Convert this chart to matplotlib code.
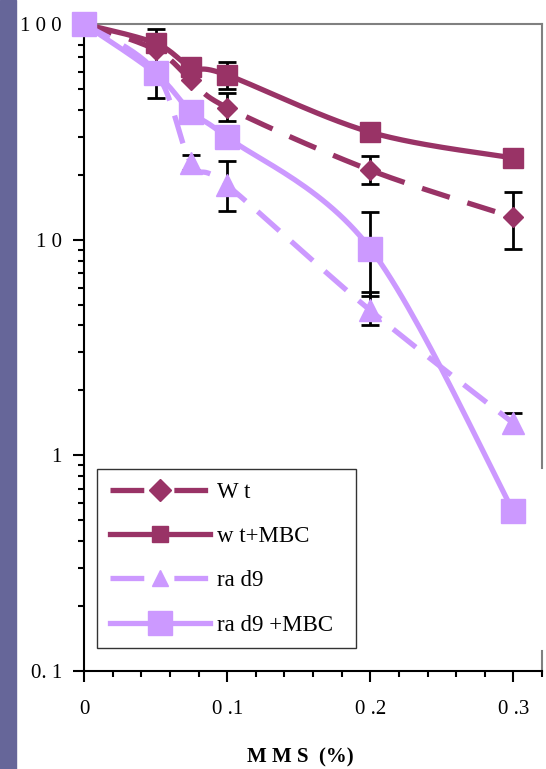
import numpy as np
import matplotlib
matplotlib.use('Agg')
import matplotlib.pyplot as plt
from matplotlib.ticker import LogLocator, NullFormatter, MultipleLocator
from matplotlib.patches import Rectangle

# MMS dose (%) and survival (%)
mms = [0, 0.05, 0.075, 0.1, 0.2, 0.3]
wt = [100, 76, 55, 41, 21, 12.7]
wt_mbc = [100, 81.5, 63, 58, 31.5, 23.9]
rad9 = [100, 60, 22.6, 17.9, 4.7, 1.41]
rad9_mbc = [100, 59, 39, 29.9, 9.1, 0.55]

# error bar ends (low, high), nan = no bar
wt_lo = [np.nan, 45.3, np.nan, 35.5, 18.1, 9.1]
wt_hi = [np.nan, 94.6, np.nan, 48, 24.4, 16.6]
wt_mbc_lo = [np.nan, np.nan, np.nan, 50, np.nan, np.nan]
wt_mbc_hi = [np.nan, np.nan, np.nan, 66.5, np.nan, np.nan]
rad9_lo = [np.nan, np.nan, 21, 13.6, 4.0, 1.3]
rad9_hi = [np.nan, np.nan, 24.7, 23.1, 5.7, 1.57]
rad9_mbc_lo = [np.nan, np.nan, np.nan, np.nan, 5.5, np.nan]
rad9_mbc_hi = [np.nan, np.nan, np.nan, np.nan, 13.5, np.nan]

labels = ['W t', 'w t+MBC', 'ra d9', 'ra d9 +MBC']
dark = '#993366'
light = '#CC99FF'


def smooth(xs, ys, n=30):
    # excel style smoothed line, bezier through the points in (x, log y)
    p = np.column_stack([xs, np.log10(ys)])
    out = []
    for i in range(len(p) - 1):
        p0 = p[max(i - 1, 0)]
        p1 = p[i]
        p2 = p[i + 1]
        p3 = p[min(i + 2, len(p) - 1)]
        c1 = p1 + (p2 - p0) / 6
        c2 = p2 - (p3 - p1) / 6
        t = np.linspace(0, 1, n)[:, None]
        seg = (1 - t) ** 3 * p1 + 3 * (1 - t) ** 2 * t * c1 + 3 * (1 - t) * t ** 2 * c2 + t ** 3 * p2
        out.append(seg if i == 0 else seg[1:])
    arr = np.vstack(out)
    return arr[:, 0], 10 ** arr[:, 1]


plt.rcParams['font.family'] = ['Liberation Serif', 'DejaVu Serif']

fig = plt.figure(figsize=(5.46, 7.69), dpi=100)
fig.patches.append(Rectangle((0, 0), 16 / 546, 1, transform=fig.transFigure,
                             color='#666699', zorder=0))
ax = fig.add_axes([84 / 546, 98 / 769, 458 / 546, 647 / 769])

series = [
    (wt, wt_lo, wt_hi, dark, (0, (5.5, 3.5)), 'D', 10.5),
    (wt_mbc, wt_mbc_lo, wt_mbc_hi, dark, '-', 's', 14.4),
    (rad9, rad9_lo, rad9_hi, light, (0, (5.5, 3)), '^', 16),
    (rad9_mbc, rad9_mbc_lo, rad9_mbc_hi, light, '-', 's', 17.3),
]
# legend handles: dash - marker - dash
leg_ls = [(0, (6.4, 5.7)), '-', (0, (6.4, 5.7)), '-']
leg_ms = [11.5, 11, 12, 17.3]

x = np.array(mms)
for vals, lo, hi, col, ls, mk, ms in series:
    v = np.array(vals)
    lo = np.array(lo)
    hi = np.array(hi)
    m = ~np.isnan(lo)
    ax.errorbar(x[m], v[m], yerr=[v[m] - lo[m], hi[m] - v[m]], fmt='none',
                ecolor='black', elinewidth=2, capsize=6.5, capthick=2, zorder=2)

for (vals, lo, hi, col, ls, mk, ms), lab, lls, lms in zip(series, labels, leg_ls, leg_ms):
    sx, sy = smooth(mms, vals)
    ax.plot(sx, sy, color=col, lw=3.8, ls=ls, dash_capstyle='butt', zorder=3)
    ax.plot(mms, vals, ls='none', marker=mk, ms=ms, color=col, mec=col,
            zorder=4, clip_on=False)
    ax.plot([], [], color=col, lw=3.8, ls=lls, dash_capstyle='butt',
            marker=mk, ms=lms, label=lab)

ax.set_yscale('log')
ax.set_ylim(0.1, 100)
ax.set_xlim(0, 0.32)

ax.set_yticks([0.1, 1, 10, 100])
ax.set_yticklabels(['0. 1', '1', '1 0', '1 0 0'])
ax.yaxis.set_minor_locator(LogLocator(base=10, subs=np.arange(2, 10)))
ax.yaxis.set_minor_formatter(NullFormatter())
ax.set_xticks([0, 0.1, 0.2, 0.3])
ax.set_xticklabels(['0', '0 .1', '0 .2', '0 .3'])
ax.xaxis.set_minor_locator(MultipleLocator(0.02))

ax.tick_params(axis='both', which='major', direction='out', length=8, width=1.5,
               labelsize=15, color='black')
ax.tick_params(axis='both', which='minor', direction='out', length=4, width=1.5)
ax.tick_params(axis='x', which='major', pad=13)
ax.tick_params(axis='y', which='major', pad=8)

for s in ['left', 'bottom']:
    ax.spines[s].set_linewidth(1.5)
    ax.spines[s].set_color('black')
ax.spines['top'].set_color('#808080')
ax.spines['top'].set_linewidth(1.5)
ax.spines['right'].set_visible(False)
# right border is broken in the original
ax.plot([1, 1], [1, 0.314], transform=ax.transAxes, color='#808080', lw=1.5, clip_on=False)
ax.plot([1, 1], [0.031, 0], transform=ax.transAxes, color='#808080', lw=1.5, clip_on=False)

leg = ax.legend(loc='upper left', bbox_to_anchor=(0.0284, 0.0263, 0.5655, 0.286),
                mode='expand', fontsize=16.5, handlelength=4.4, handletextpad=0.28,
                labelspacing=1.02, borderpad=0.55, borderaxespad=0, fancybox=False,
                frameon=True)
leg.get_frame().set_edgecolor('black')
leg.get_frame().set_linewidth(1)

fig.text(300 / 546, 1 - 757 / 769, 'M M S  (%)', ha='center', va='center',
         fontsize=15, fontweight='bold')

fig.savefig('out.png', dpi=100)
